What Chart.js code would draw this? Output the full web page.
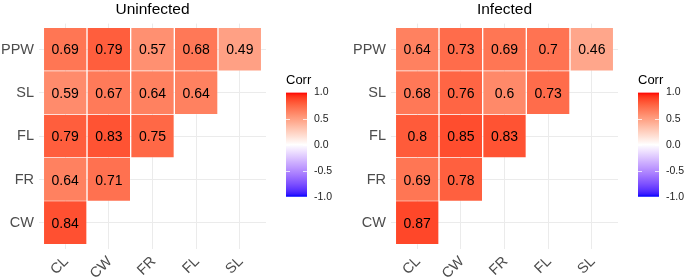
<!DOCTYPE html>
<html>
<head>
<meta charset="utf-8">
<script src="https://cdn.jsdelivr.net/npm/chart.js@4/dist/chart.umd.min.js"></script>
<style>
  body { margin: 0; background: #fff; }
  #wrap { position: relative; width: 685px; height: 280px; overflow: hidden; }
  canvas { position: absolute; }
</style>
</head>
<body>
<div id="wrap">
  <canvas id="heatLeft" width="272" height="280" style="left:0;top:0"></canvas>
  <canvas id="barLeft" width="74" height="140" style="left:266px;top:70px"></canvas>
  <canvas id="heatRight" width="280" height="280" style="left:345px;top:0"></canvas>
  <canvas id="barRight" width="67" height="140" style="left:618px;top:70px"></canvas>
</div>
<script>
// columns (left to right) and rows (top to bottom)
const xCats = ['CL', 'CW', 'FR', 'FL', 'SL'];
const yCats = ['PPW', 'SL', 'FL', 'FR', 'CW'];

// lower-triangle correlations, one array per row
const uninfected = [
    [0.69, 0.79, 0.57, 0.68, 0.49],
    [0.59, 0.67, 0.64, 0.64],
    [0.79, 0.83, 0.75],
    [0.64, 0.71],
    [0.84]
];
const infected = [
    [0.64, 0.73, 0.69, 0.7, 0.46],
    [0.68, 0.76, 0.6, 0.73],
    [0.8, 0.85, 0.83],
    [0.69, 0.78],
    [0.87]
];
const legendTicks = [-1, -0.5, 0, 0.5, 1];

const FONT = 'Liberation Sans, Arial, Helvetica, sans-serif';

// blue - white - red, interpolated in Lab like ggplot's gradient2
function toLab(rgb) {
    const lin = rgb.map(c => {
        c /= 255;
        return c <= 0.04045 ? c / 12.92 : Math.pow((c + 0.055) / 1.055, 2.4);
    });
    const X = (0.4124 * lin[0] + 0.3576 * lin[1] + 0.1805 * lin[2]) / 0.95047;
    const Y = 0.2126 * lin[0] + 0.7152 * lin[1] + 0.0722 * lin[2];
    const Z = (0.0193 * lin[0] + 0.1192 * lin[1] + 0.9505 * lin[2]) / 1.08883;
    const f = t => t > 0.008856 ? Math.cbrt(t) : 7.787 * t + 16 / 116;
    const fx = f(X), fy = f(Y), fz = f(Z);
    return [116 * fy - 16, 500 * (fx - fy), 200 * (fy - fz)];
}
function fromLab(lab) {
    const fy = (lab[0] + 16) / 116, fx = fy + lab[1] / 500, fz = fy - lab[2] / 200;
    const inv = t => t * t * t > 0.008856 ? t * t * t : (t - 16 / 116) / 7.787;
    const X = inv(fx) * 0.95047, Y = inv(fy), Z = inv(fz) * 1.08883;
    const lin = [
        3.2406 * X - 1.5372 * Y - 0.4986 * Z,
        -0.9689 * X + 1.8758 * Y + 0.0415 * Z,
        0.0557 * X - 0.2040 * Y + 1.0570 * Z
    ];
    return lin.map(c => {
        c = c <= 0.0031308 ? 12.92 * c : 1.055 * Math.pow(c, 1 / 2.4) - 0.055;
        return Math.round(Math.min(1, Math.max(0, c)) * 255);
    });
}
const LAB_LOW = toLab([0, 0, 255]), LAB_MID = toLab([255, 255, 255]), LAB_HIGH = toLab([255, 0, 0]);
function corrColor(v) {
    const end = v >= 0 ? LAB_HIGH : LAB_LOW;
    const t = Math.abs(v);
    const lab = LAB_MID.map((m, i) => m + (end[i] - m) * t);
    const c = fromLab(lab);
    return `rgb(${c[0]},${c[1]},${c[2]})`;
}

const valueLabels = {
    id: 'valueLabels',
    afterDatasetsDraw(chart) {
        const ctx = chart.ctx;
        const meta = chart.getDatasetMeta(0);
        const ds = chart.data.datasets[0];
        ctx.save();
        ctx.font = `14px ${FONT}`;
        ctx.fillStyle = '#000';
        ctx.textAlign = 'center';
        ctx.textBaseline = 'middle';
        meta.data.forEach((el, i) => {
            const p = el.getCenterPoint();
            ctx.fillText(String(ds.data[i].v), p.x, p.y + 1);
        });
        ctx.restore();
    }
};

// small white ticks on both edges of the colour bar
const barTicks = {
    id: 'barTicks',
    afterDatasetsDraw(chart) {
        const ctx = chart.ctx;
        const a = chart.chartArea;
        const ys = chart.scales.y;
        ctx.save();
        ctx.strokeStyle = 'rgba(255,255,255,0.75)';
        ctx.lineWidth = 1;
        legendTicks.slice(1, -1).forEach(v => {
            const y = Math.round(ys.getPixelForValue(v)) + 0.5;
            ctx.beginPath();
            ctx.moveTo(a.left, y); ctx.lineTo(a.left + 4, y);
            ctx.moveTo(a.right - 4, y); ctx.lineTo(a.right, y);
            ctx.stroke();
        });
        ctx.restore();
    }
};

function heatmap(id, title, rows, yAxisWidth, padRight) {
    const points = [];
    rows.forEach((row, r) => {
        row.forEach((v, c) => points.push({ x: c, y: [r - 0.5, r + 0.5], v: v }));
    });
    return new Chart(document.getElementById(id), {
        type: 'bar',
        data: {
            datasets: [{
                data: points,
                backgroundColor: points.map(p => corrColor(p.v)),
                borderColor: 'rgba(255,255,255,0.2)',
                borderWidth: 1,
                barPercentage: 1,
                categoryPercentage: 1
            }]
        },
        options: {
            responsive: false,
            animation: false,
            layout: { padding: { left: 0, right: padRight, top: 0, bottom: 0 } },
            plugins: {
                legend: { display: false },
                tooltip: { enabled: false },
                title: {
                    display: true,
                    text: title,
                    fullSize: false,
                    color: '#000',
                    font: { family: FONT, size: 15.5, weight: 'normal' },
                    padding: { top: 0, bottom: 5 }
                }
            },
            scales: {
                x: {
                    type: 'linear',
                    offset: false,
                    min: -0.6,
                    max: xCats.length - 0.4,
                    afterBuildTicks: s => { s.ticks = xCats.map((_, i) => ({ value: i })); },
                    afterFit: s => { s.height = 31; },
                    grid: { color: '#EBEBEB', lineWidth: 1, drawTicks: false, offset: false },
                    border: { display: false },
                    ticks: {
                        autoSkip: false,
                        minRotation: 45,
                        maxRotation: 45,
                        padding: 4,
                        labelOffset: 1,
                        color: '#4D4D4D',
                        font: { family: FONT, size: 14.5 },
                        callback: v => xCats[v]
                    }
                },
                y: {
                    type: 'linear',
                    reverse: true,
                    min: -0.6,
                    max: yCats.length - 0.4,
                    afterBuildTicks: s => { s.ticks = yCats.map((_, i) => ({ value: i })); },
                    afterFit: s => { s.width = yAxisWidth; },
                    grid: { color: '#EBEBEB', lineWidth: 1, drawTicks: false },
                    border: { display: false },
                    ticks: {
                        autoSkip: false,
                        padding: 5,
                        color: '#4D4D4D',
                        font: { family: FONT, size: 14.5 },
                        callback: v => yCats[v]
                    }
                }
            }
        },
        plugins: [valueLabels]
    });
}

function colorbar(id, axisWidth) {
    return new Chart(document.getElementById(id), {
        type: 'bar',
        data: {
            labels: ['Corr'],
            datasets: [{
                data: [[legendTicks[0], legendTicks[legendTicks.length - 1]]],
                barPercentage: 1,
                categoryPercentage: 1,
                backgroundColor: ctx => {
                    const chart = ctx.chart;
                    if (!chart.chartArea) return '#fff';
                    const ys = chart.scales.y;
                    const g = chart.ctx.createLinearGradient(0, ys.getPixelForValue(-1), 0, ys.getPixelForValue(1));
                    for (let i = 0; i <= 40; i++) {
                        g.addColorStop(i / 40, corrColor(-1 + i / 20));
                    }
                    return g;
                }
            }]
        },
        options: {
            responsive: false,
            animation: false,
            layout: { padding: { left: 20, right: 0, top: 0, bottom: 12 } },
            plugins: {
                legend: { display: false },
                tooltip: { enabled: false },
                title: {
                    display: true,
                    text: 'Corr',
                    align: 'start',
                    color: '#000',
                    font: { family: FONT, size: 13, weight: 'normal' },
                    padding: { top: 3, bottom: 4 }
                }
            },
            scales: {
                x: { display: false },
                y: {
                    position: 'right',
                    min: -1,
                    max: 1,
                    afterBuildTicks: s => { s.ticks = legendTicks.map(v => ({ value: v })); },
                    afterFit: s => { s.width = axisWidth; },
                    grid: { display: false, drawTicks: false },
                    border: { display: false },
                    ticks: {
                        padding: 7,
                        color: '#222',
                        font: { family: FONT, size: 10.5 },
                        callback: v => v.toFixed(1)
                    }
                }
            }
        },
        plugins: [barTicks]
    });
}

heatmap('heatLeft', 'Uninfected', uninfected, 39, 6);
heatmap('heatRight', 'Infected', infected, 46, 7);
colorbar('barLeft', 33);
colorbar('barRight', 26);
</script>
</body>
</html>
